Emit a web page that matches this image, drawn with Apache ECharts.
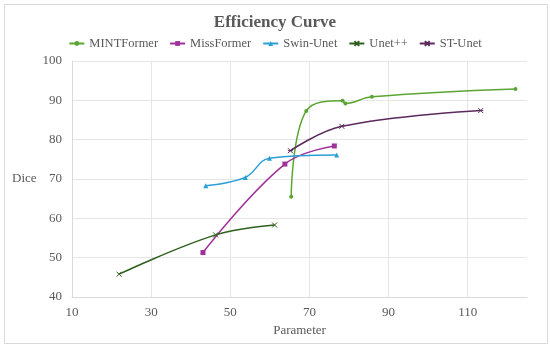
<!DOCTYPE html>
<html>
<head>
<meta charset="utf-8">
<script src="https://cdn.jsdelivr.net/npm/echarts@6/dist/echarts.min.js"></script>
<style>html,body{margin:0;padding:0;background:#fff}#c{width:550px;height:349px}</style>
</head>
<body>
<div id="c"></div>
<script>
var seriesNames = ['MINTFormer', 'MissFormer', 'Swin-Unet', 'Unet++', 'ST-Unet'];
var mintFormerX = [65.4, 69.2, 78.4, 79.1, 85.8, 122.1];
var mintFormerY = [65.5, 87.3, 89.9, 89.2, 90.9, 92.9];
var missFormerX = [43.1, 63.8, 76.3];
var missFormerY = [51.3, 73.8, 78.4];
var swinUnetX = [43.8, 53.8, 59.9, 76.9];
var swinUnetY = [68.3, 70.4, 75.3, 76.1];
var unetPPX = [21.9, 46.3, 61.2];
var unetPPY = [45.8, 55.8, 58.3];
var stUnetX = [65.2, 78.2, 113.3];
var stUnetY = [77.2, 83.4, 87.4];
var xTicks = [10, 30, 50, 70, 90, 110];
var yTicks = [40, 50, 60, 70, 80, 90, 100];

function pairs(xs, ys) { return xs.map(function (x, i) { return [x, ys[i]]; }); }

var font = '"Liberation Serif", "Times New Roman", serif';
var colors = ['#5BA534', '#A0309A', '#2A9FD6', '#2F5F1F', '#5A2A5C'];
var symbols = ['circle', 'rect', 'triangle', 'path://M0,0L10,10M10,0L0,10', 'path://M0,0L10,10M10,0L0,10M0,5L10,5'];
var sizes = [4, 5, 5, 5, 5];
var datasets = [pairs(mintFormerX, mintFormerY), pairs(missFormerX, missFormerY), pairs(swinUnetX, swinUnetY), pairs(unetPPX, unetPPY), pairs(stUnetX, stUnetY)];

var chart = echarts.init(document.getElementById('c'));
chart.setOption({
  animation: false,
  title: {
    text: 'Efficiency Curve', left: 'center', top: 9,
    textStyle: { fontFamily: font, fontSize: 17, fontWeight: 'bold', color: '#595959' }
  },
  legend: {
    top: 32, left: 'center', itemWidth: 15, itemHeight: 6, itemGap: 11,
    textStyle: { fontFamily: font, fontSize: 12.5, color: '#595959' },
    data: seriesNames
  },
  graphic: [{
    type: 'rect', shape: { x: 4.5, y: 4.5, width: 543, height: 339 },
    style: { fill: 'none', stroke: '#d9d9d9', lineWidth: 1 }, silent: true, z: -1
  }],
  grid: { left: 72, right: 23, top: 61, bottom: 52 },
  xAxis: {
    type: 'value', min: 10, max: 125, interval: 20,
    name: 'Parameter', nameLocation: 'middle', nameGap: 23,
    nameTextStyle: { fontFamily: font, fontSize: 13, color: '#595959' },
    axisLine: { show: true, lineStyle: { color: '#d9d9d9' } },
    axisTick: { show: false },
    axisLabel: { fontFamily: font, fontSize: 13, color: '#595959', margin: 9, showMaxLabel: false,
      formatter: function (v) { return xTicks.indexOf(v) >= 0 ? String(v) : ''; } },
    splitLine: { show: true, showMaxLine: false, lineStyle: { color: '#e6e6e6' } }
  },
  yAxis: {
    type: 'value', min: 40, max: 100, interval: 10,
    name: 'Dice', nameLocation: 'middle', nameGap: 34, nameRotate: 0,
    nameTextStyle: { fontFamily: font, fontSize: 13, color: '#595959' },
    axisLine: { show: true, lineStyle: { color: '#d9d9d9' } },
    axisTick: { show: false },
    axisLabel: { fontFamily: font, fontSize: 13, color: '#595959', margin: 10,
      formatter: function (v) { return yTicks.indexOf(v) >= 0 ? String(v) : ''; } },
    splitLine: { show: true, lineStyle: { color: '#e6e6e6' } }
  },
  series: seriesNames.map(function (n, i) {
    return {
      name: n, type: 'line', data: datasets[i], smooth: 0.4,
      symbol: symbols[i], symbolSize: sizes[i], showSymbol: true,
      lineStyle: { color: colors[i], width: 1.5 },
      itemStyle: { color: colors[i], borderColor: colors[i], borderWidth: i >= 3 ? 1 : 0 }
    };
  })
});
</script>
</body>
</html>
